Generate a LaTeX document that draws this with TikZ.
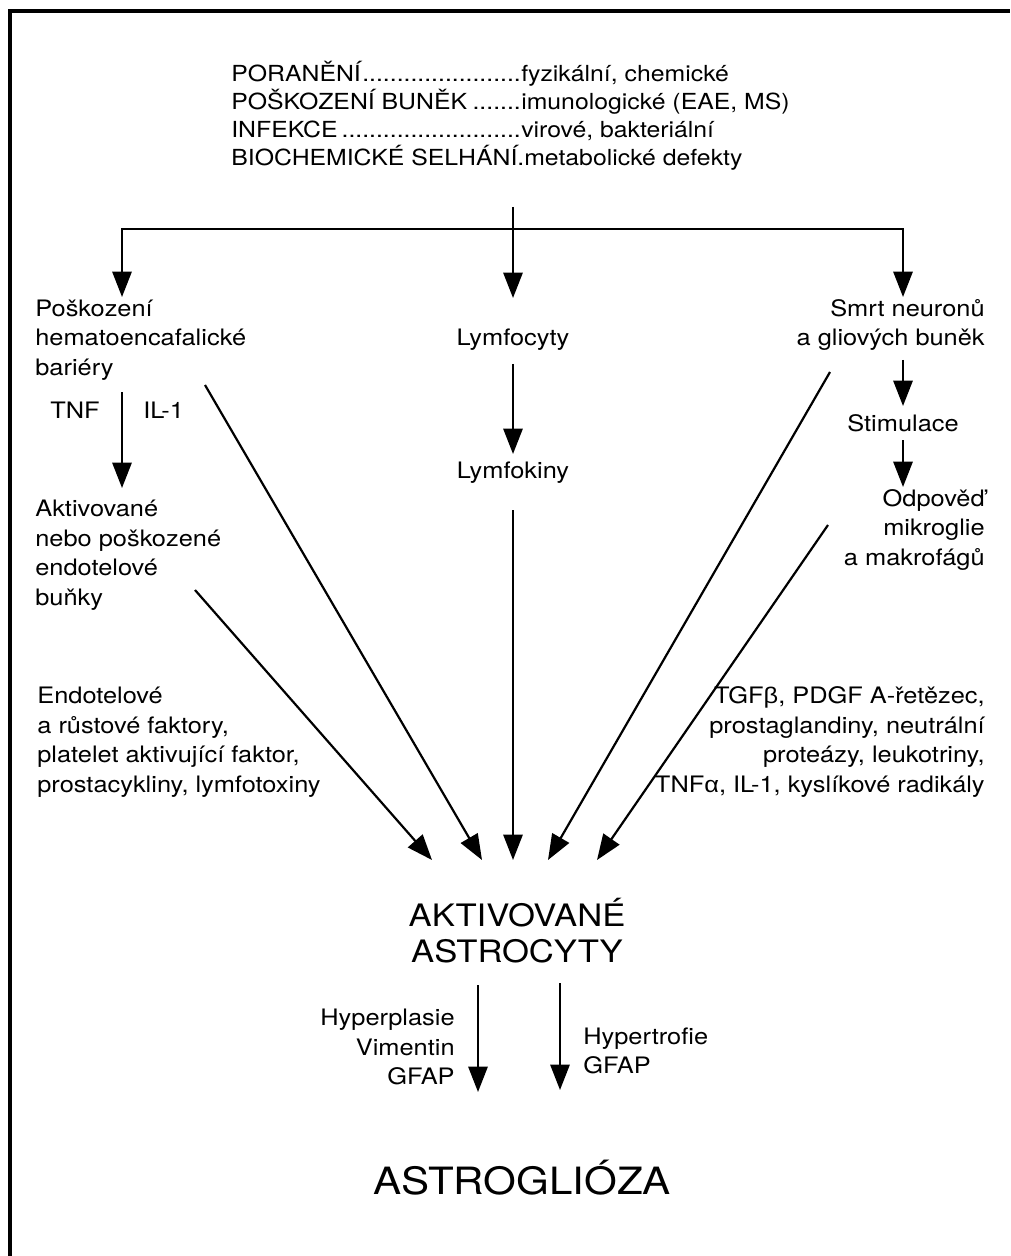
\documentclass[tikz,border=0pt]{standalone}
\usepackage{fontspec}
\setmainfont{TeX Gyre Heros}[FakeStretch=1.12]
\newfontfamily\grk{Liberation Sans}[FakeStretch=1.12]
\usetikzlibrary{arrows.meta}
\newcommand\dotlead[1]{\makebox[5.8cm][l]{#1\leaders\hbox{.}\hfill}}
\begin{document}
\begin{tikzpicture}[x=0.02cm,y=-0.02cm,
  txt/.style={inner sep=0pt, font=\fontsize{12.9}{16.8}\selectfont},
  big/.style={inner sep=0pt, font=\fontsize{17.6}{20.5}\selectfont},
  huge/.style={inner sep=0pt, font=\fontsize{21.4}{26}\selectfont},
  ln/.style={line width=1.2pt},
  arr/.style={line width=1.25pt, -{Triangle[length=14.5pt,width=11pt]}},
  frame/.style={line width=1.8pt}]
\useasboundingbox (0,0) rectangle (1010,1256);
% frame (top and left only)
\coordinate (fl) at (10,1256);
\coordinate (fc) at (10,11);
\coordinate (fr) at (1010,11);
\draw[frame] (fl) -- (fc) -- (fr);

% top causes
\node[inner sep=0pt, font=\fontsize{12.6}{15.9}\selectfont, align=left, anchor=west] (causes) at (231,116)
 {\dotlead{PORANĚNÍ}fyzikální, chemické\\
  \dotlead{POŠKOZENÍ BUNĚK}imunologické (EAE, MS)\\
  \dotlead{INFEKCE}virové, bakteriální\\
  BIOCHEMICKÉ SELHÁNÍ.metabolické defekty};

% second row
\node[txt, align=left, anchor=west] (pos) at (35,340) {Poškození\\hematoencafalické\\bariéry};
\node[txt] (lym) at (513,340) {Lymfocyty};
\node[txt, align=right, anchor=east] (smrt) at (985,325) {Smrt neuronů\\a gliových buněk};

% third row
\node[txt, anchor=east] (tnf) at (100,410) {TNF};
\node[txt, anchor=west] (il) at (143,410) {IL-1};
\node[txt] (lymk) at (513,473) {Lymfokiny};
\node[txt] (stim) at (903,423) {Stimulace};
\node[txt, align=left, anchor=west] (akt) at (35,555) {Aktivované\\nebo poškozené\\endotelové\\buňky};
\node[txt, align=right, anchor=east] (odp) at (985,530) {Odpověď\\mikroglie\\a makrofágů};

% factor lists
\node[txt, align=left, anchor=west] (endo) at (37,742)
 {Endotelové\\a růstové faktory,\\platelet aktivující faktor,\\prostacykliny, lymfotoxiny};
\node[txt, align=right, anchor=east] (tgf) at (985,742)
 {TGF{\grk β}, PDGF A-řetězec,\\prostaglandiny, neutrální\\proteázy, leukotriny,\\TNF{\grk α}, IL-1, kyslíkové radikály};

% result
\node[big, align=center] (aa) at (517,931) {AKTIVOVANÉ\\ASTROCYTY};
\node[txt, align=right, anchor=east] (hpl) at (455,1047) {Hyperplasie\\Vimentin\\GFAP};
\node[txt, align=left, anchor=west] (htr) at (583,1051) {Hypertrofie\\GFAP};
\node[huge] (ag) at (522,1178) {ASTROGLIÓZA};

% connector coordinates
\coordinate (top) at (513,207);
\coordinate (j) at (513,229);
\coordinate (tipL) at (122,297);
\coordinate (tipM) at (513,298);
\coordinate (tipR) at (903,297);
\coordinate (tnfS) at (122,392);
\coordinate (tnfE) at (122,488);
\coordinate (lymS) at (513,364);
\coordinate (lymE) at (513,454);
\coordinate (smS) at (903,360);
\coordinate (smE) at (903,406);
\coordinate (stS) at (903,440);
\coordinate (stE) at (903,487);
\coordinate (aS) at (195,590);
\coordinate (aE) at (432,860);
\coordinate (bS) at (205,385);
\coordinate (bE) at (482,860);
\coordinate (cS) at (513,510);
\coordinate (cE) at (513,860);
\coordinate (dS) at (830,372);
\coordinate (dE) at (548,860);
\coordinate (eS) at (828,525);
\coordinate (eE) at (597,860);
\coordinate (hS) at (478,985);
\coordinate (hE) at (478,1092);
\coordinate (tS) at (560,983);
\coordinate (tE) at (560,1090);

% connectors
\draw[arr] (top) -- (tipM);
\draw[arr] (j) -| (tipL);
\draw[arr] (j) -| (tipR);
\draw[arr] (tnfS) -- (tnfE);
\draw[arr] (lymS) -- (lymE);
\draw[arr] (smS) -- (smE);
\draw[arr] (stS) -- (stE);
\draw[arr] (aS) -- (aE);
\draw[arr] (bS) -- (bE);
\draw[arr] (cS) -- (cE);
\draw[arr] (dS) -- (dE);
\draw[arr] (eS) -- (eE);
\draw[arr] (hS) -- (hE);
\draw[arr] (tS) -- (tE);
\end{tikzpicture}
\end{document}
